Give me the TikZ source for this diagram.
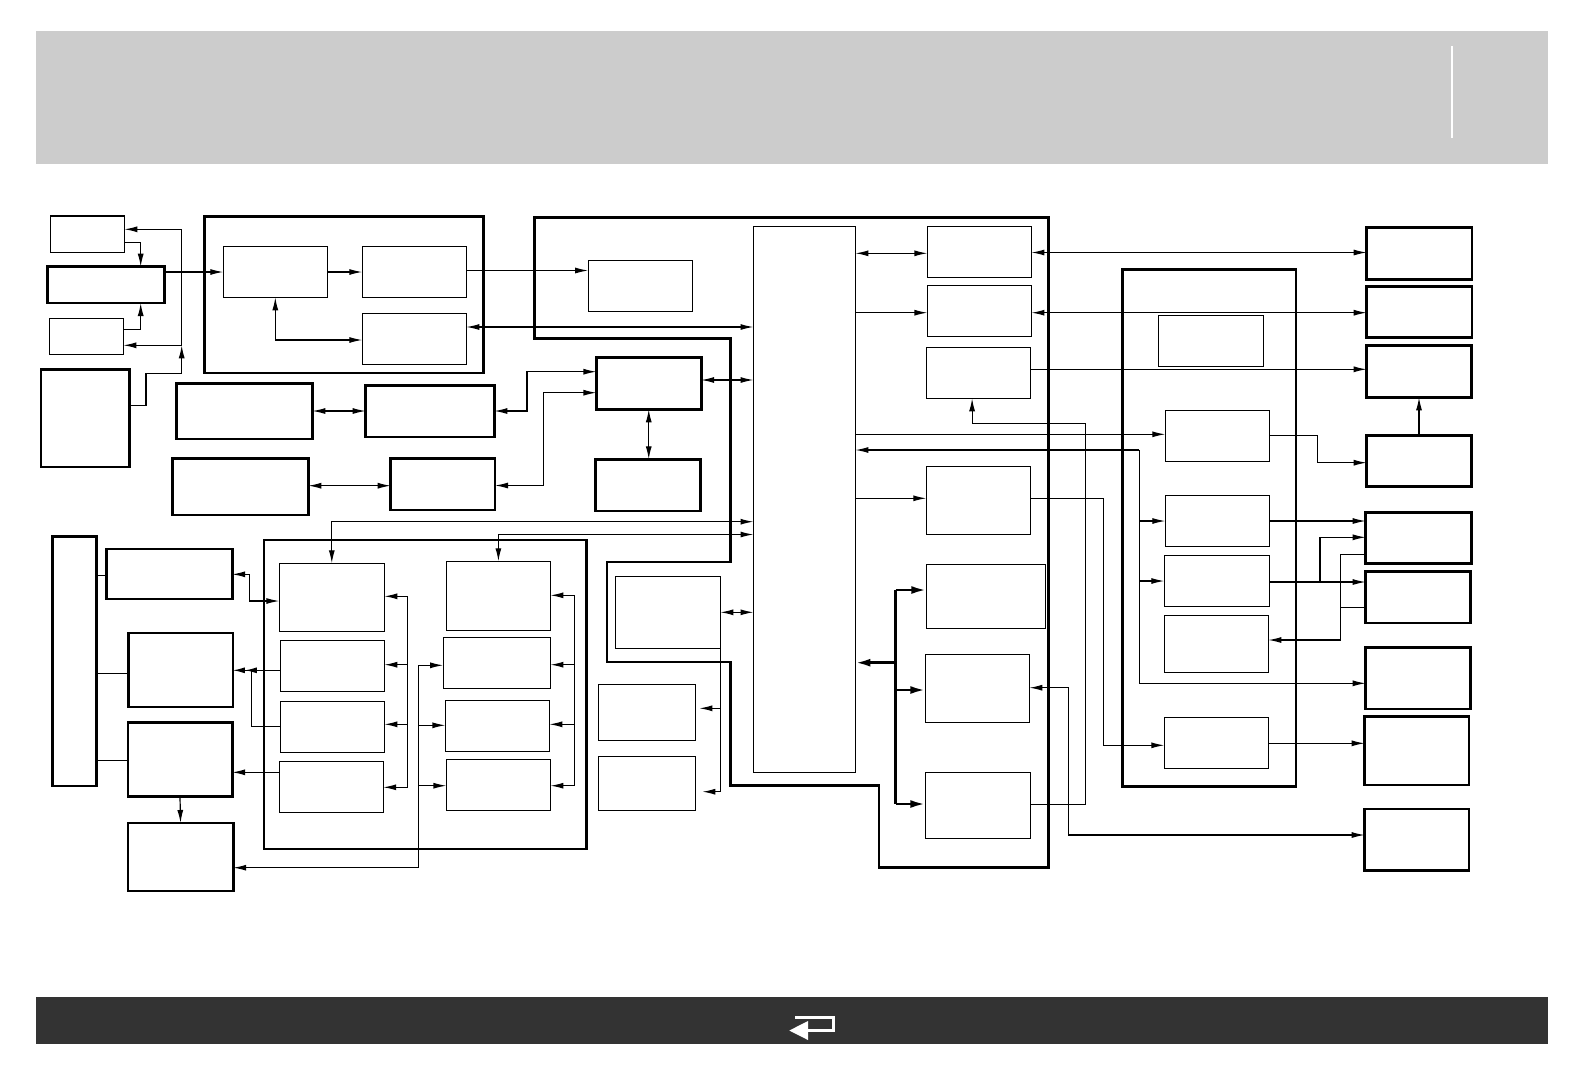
\documentclass[tikz,border=0pt]{standalone}
\usetikzlibrary{arrows.meta}
\definecolor{kopfgrau}{HTML}{CCCCCC}
\definecolor{fussgrau}{HTML}{333333}

% Kasten: [Stil]{Name}{x1}{y1}{x2}{y2}
\newcommand{\kasten}[6][duenn]{%
  \node[#1, anchor=north west, minimum width={#5pt-#3pt}, minimum height={#6pt-#4pt}] (#2) at (#3,#4) {};}

\begin{document}
\begin{tikzpicture}[x=1pt, y=-1pt,
    duenn/.style={draw, line width=1.2pt, inner sep=0pt, outer sep=0pt},
    dick/.style={draw, line width=2.8pt, inner sep=0pt, outer sep=0pt},
    linie/.style={line width=1.2pt},
    pfeil/.style={linie, -{Latex[length=13pt,width=6pt]}},
    dpfeil/.style={linie, {Latex[length=13pt,width=6pt]}-{Latex[length=13pt,width=6pt]}},
    fett/.style={line width=2.6pt, -{Latex[length=15pt,width=8pt]}}]
    \useasboundingbox (0,0) rectangle (1584,1080);

    % Kopf- und Fussleiste
    \fill[kopfgrau] (36.4,31) rectangle (1548,163.7);
    \draw[white, line width=2.5pt] (1452,46) -- (1452,138);
    \fill[fussgrau] (36.4,997) rectangle (1548,1043.5);
    \draw[white, line width=3pt] (795,1017.3) -- (833.5,1017.3) -- (833.5,1030) -- (805,1030);
    \fill[white] (789.3,1030.5) -- (808,1021) -- (808,1040) -- cycle;

    % Gruppe links oben
    \kasten{aa}{50.7}{216}{124.3}{252.3}
    \kasten[dick]{ab}{47.7}{266.7}{164.3}{303}
    \kasten{ac}{49.3}{318.3}{123.3}{354.3}
    \kasten[dick]{ad}{41}{369.7}{129.3}{467}

    \kasten[dick]{ba}{204.7}{216.7}{483.3}{373}
    \kasten{bb}{223.3}{246.3}{327.3}{297.3}
    \kasten{bc}{362.3}{246.3}{466.3}{297.3}
    \kasten{bd}{362.3}{313.3}{466.3}{364.3}

    \kasten[dick]{pa}{176.7}{383.3}{312.3}{439}
    \kasten[dick]{pb}{365.7}{385.7}{494.3}{437}
    \kasten[dick]{qa}{172.7}{458.3}{308.3}{515}
    \kasten[dick]{qb}{390.7}{458.3}{495}{510}

    % Mittelblock
    \draw[line width=2.8pt] (534.5,217.3) -- (1048.6,217.3) -- (1048.6,867.2) -- (879,867.2)
      -- (879,785.5) -- (730.7,785.5) -- (730.7,662) -- (607,662) -- (607,562)
      -- (730.7,562) -- (730.7,338.7) -- (534.5,338.7) -- cycle;
    \kasten{ca}{588.2}{260.3}{692.2}{311.3}
    \kasten[dick]{da}{596.4}{357.3}{701.1}{409.3}
    \kasten[dick]{db}{595.8}{459.3}{700.4}{511}
    \kasten{bus}{753.5}{226.7}{855.4}{772.3}
    \kasten{ga}{615.3}{576.7}{720.3}{648.3}
    \kasten{gb}{598.3}{684.3}{695.3}{740.3}
    \kasten{gc}{598.3}{756.3}{695.3}{810.3}
    \kasten{ra}{927.4}{226.3}{1031.4}{277.3}
    \kasten{rb}{927.4}{285.3}{1031.4}{336.3}
    \kasten{rc}{926.3}{347.3}{1030.3}{398.3}
    \kasten{rd}{926.3}{466.7}{1030.3}{534.3}
    \kasten{re}{926.3}{564.3}{1045.3}{628.3}
    \kasten{rf}{925.3}{654.3}{1029.3}{722.3}
    \kasten{rg}{925.3}{772.3}{1030.3}{838.3}

    % Block rechts
    \kasten[dick]{ta}{1122.7}{269.7}{1296}{786.7}
    \kasten{tb}{1158.3}{315.3}{1263.3}{366.3}
    \kasten{tc}{1165.3}{410.3}{1269.3}{461.3}
    \kasten{td}{1165.3}{495.3}{1269.3}{546.3}
    \kasten{te}{1164.3}{555.3}{1269.7}{606.3}
    \kasten{tf}{1164.3}{615.7}{1268.3}{672.3}
    \kasten{tg}{1164.3}{717.3}{1268.3}{768.3}

    % Ausgaenge rechts
    \kasten[dick]{xa}{1366.7}{227.7}{1472}{279.3}
    \kasten[dick]{xb}{1366.7}{286.7}{1472}{337.7}
    \kasten[dick]{xc}{1366.7}{345.7}{1471.3}{397.3}
    \kasten[dick]{xd}{1366.7}{435.7}{1471.3}{486.7}
    \kasten[dick]{xe}{1365.7}{512.7}{1471.3}{563.7}
    \kasten[dick]{xf}{1365.7}{571.7}{1470.3}{623}
    \kasten[dick]{xg}{1365.7}{647.7}{1470.3}{709}
    \kasten[dick]{xh}{1364.7}{716.7}{1469}{785}
    \kasten[dick]{xi}{1364.7}{809}{1469}{870.7}

    % Gruppe links unten
    \kasten[dick]{la}{52.1}{536.7}{96.1}{786}
    \kasten[dick]{ma}{106.8}{549}{232.1}{599}
    \kasten[dick]{mb}{128.6}{633}{232.9}{707}
    \kasten[dick]{mc}{127.9}{722.7}{232.1}{796.7}
    \kasten[dick]{md}{127.9}{823}{233.2}{891}
    \kasten[dick]{ea}{263.9}{540}{586.4}{849}
    \kasten{e1}{279.3}{563.3}{384.3}{631.3}
    \kasten{e2}{280.4}{640.3}{384.3}{691.3}
    \kasten{e3}{280.4}{701.7}{384.3}{752.3}
    \kasten{e4}{279.3}{761.3}{383.2}{812.3}
    \kasten{e5}{446.4}{561.3}{550.4}{630.3}
    \kasten{e6}{443.2}{637.3}{550.4}{688.3}
    \kasten{e7}{445.4}{700.3}{549.3}{751.3}
    \kasten{e8}{446.4}{759.3}{550.4}{810.3}

    % Knoten fuer Sammelleitungen
    \coordinate (aknoten) at (181.7,345.3);
    \coordinate (schieneA) at (407.5,0);
    \coordinate (schieneB) at (574.3,0);
    \coordinate (schieneC) at (418.6,0);
    \coordinate (schieneT) at (1139.3,0);
    \coordinate (fk) at (895.7,0);

    % Verbindungen links oben
    \draw[pfeil] (aa.east |- 0,242.3) -| (ab.north -| 140.7,0);
    \draw[pfeil] (ac.east |- 0,329.3) -| (ab.south -| 140.7,0);
    \draw[dpfeil] (aa.east |- 0,229.3) -| (aknoten) -- (ac.east |- aknoten);
    \draw[pfeil] (ad.east |- 0,405.3) -| (146,373.3) -| (aknoten);
    \draw[pfeil] (ab.east |- 0,272) -- (bb.west |- 0,272);
    \draw[pfeil] (bb.east |- 0,272) -- (bc.west |- 0,272);
    \draw[dpfeil] (bb.south) |- (bd.west |- 0,340);
    \draw[pfeil] (bc.east |- 0,270.5) -- (ca.west |- 0,270.5);
    \draw[dpfeil] (bd.east |- 0,327) -- (bus.west |- 0,327);
    \draw[dpfeil] (pa.east |- 0,411) -- (pb.west |- 0,411);
    \draw[dpfeil] (qa.east |- 0,485.7) -- (qb.west |- 0,485.7);
    \draw[dpfeil] (pb.east |- 0,411) -| (526.9,371.7) -- (da.west |- 0,371.7);
    \draw[dpfeil] (qb.east |- 0,485.5) -| (543.4,392.7) -- (da.west |- 0,392.7);
    \draw[dpfeil] (da.east |- 0,380) -- (bus.west |- 0,380);
    \draw[dpfeil] (da.south) -- (da.south |- db.north);

    % Verbindungen links unten
    \draw[dpfeil] (bus.west |- 0,521.7) -| (e1.north);
    \draw[dpfeil] (bus.west |- 0,534.5) -| (e5.north);
    \draw[linie] (la.east |- 0,575.3) -- (ma.west |- 0,575.3);
    \draw[linie] (la.east |- 0,673.3) -- (mb.west |- 0,673.3);
    \draw[linie] (la.east |- 0,760.3) -- (mc.west |- 0,760.3);
    \draw[pfeil] (mc.south) -- (md.north);
    \draw[dpfeil] (ma.east |- 0,574.3) -| (249.3,601) -- (e1.west |- 0,601);
    \draw[linie, -{Latex[length=12pt,width=6pt]Latex[length=12pt,width=6pt]}] (e2.west |- 0,670.3) -- (mb.east |- 0,670.3);
    \draw[linie] (e3.west |- 0,726.7) -| (251.8,670.3);
    \draw[pfeil] (e4.west |- 0,772.3) -- (mc.east |- 0,772.3);
    \draw[linie] (schieneA |- 0,596.3) -- (schieneA |- 0,787.3);
    \foreach \ziel/\hy in {e1/596.3, e2/664.7, e3/724.3, e4/787.3}
      \draw[pfeil] (schieneA |- 0,\hy) -- (\ziel.east |- 0,\hy);
    \draw[linie] (schieneB |- 0,595.3) -- (schieneB |- 0,785.7);
    \foreach \ziel/\hy in {e5/595.3, e6/664.7, e7/724.3, e8/785.7}
      \draw[pfeil] (schieneB |- 0,\hy) -- (\ziel.east |- 0,\hy);
    \foreach \ziel/\hy in {e6/665.3, e7/725.3, e8/785.7}
      \draw[pfeil] (schieneC |- 0,\hy) -- (\ziel.west |- 0,\hy);
    \draw[pfeil] (schieneC |- 0,665.3) |- (md.east |- 0,867.7);

    % Verbindungen Mitte
    \draw[dpfeil] (ga.east |- 0,612.3) -- (bus.west |- 0,612.3);
    \draw[linie] (ga.south east) -- (ga.south east |- 0,791.7);
    \draw[pfeil, shorten >=4pt] (ga.south east |- 0,708.3) -- (gb.east |- 0,708.3);
    \draw[pfeil, shorten >=7pt] (ga.south east |- 0,791.7) -- (gc.east |- 0,791.7);
    \draw[dpfeil] (bus.east |- 0,253.3) -- (ra.west |- 0,253.3);
    \draw[pfeil] (bus.east |- 0,312.7) -- (rb.west |- 0,312.7);
    \draw[pfeil] (bus.east |- 0,434.3) -- (tc.west |- 0,434.3);
    \draw[pfeil] (schieneT |- 0,450) -- (bus.east |- 0,450);
    \draw[pfeil] (schieneT |- 0,450) |- (xg.west |- 0,683.3);
    \draw[pfeil] (schieneT |- 0,521) -- (td.west |- 0,521);
    \draw[pfeil] (schieneT |- 0,581) -- (te.west |- 0,581);
    \draw[pfeil] (bus.east |- 0,498.3) -- (rd.west |- 0,498.3);
    \draw[pfeil] (rd.east |- 0,498.3) -| (1103.3,745.3) -- (tg.west |- 0,745.3);
    \draw[fett] (fk |- 0,662.7) -- (bus.east |- 0,662.7);
    \draw[line width=2.6pt] (fk |- 0,590) -- (fk |- 0,804);
    \foreach \ziel/\hy in {re/590, rf/690, rg/804}
      \draw[fett] (fk |- 0,\hy) -- (\ziel.west |- 0,\hy);
    \draw[pfeil] (rg.east |- 0,804.3) -| (1085.3,423.3) -| (rc.south -| 972.1,0);
    \draw[dpfeil] (rf.east |- 0,687.7) -| (1068.3,835) -- (xi.west |- 0,835);

    % Verbindungen rechts
    \draw[dpfeil] (ra.east |- 0,252.5) -- (xa.west |- 0,252.5);
    \draw[dpfeil] (rb.east |- 0,312.7) -- (xb.west |- 0,312.7);
    \draw[pfeil] (rc.east |- 0,369.3) -- (xc.west |- 0,369.3);
    \draw[pfeil] (xd.north) -- (xc.south);
    \draw[pfeil] (tc.east |- 0,435.7) -| (1317.3,462.7) -- (xd.west |- 0,462.7);
    \draw[pfeil] (td.east |- 0,521) -- (xe.west |- 0,521);
    \draw[pfeil] (te.east |- 0,582) -- (xf.west |- 0,582);
    \draw[pfeil] (1320,582) |- (xe.west |- 0,537.3);
    \draw[pfeil] (xe.west |- 0,554.3) -| (1340.3,640) -- (tf.east |- 0,640);
    \draw[linie] (xf.west |- 0,607.3) -- (1340.3,607.3);
    \draw[pfeil] (tg.east |- 0,743.3) -- (xh.west |- 0,743.3);
  \end{tikzpicture}
\end{document}
